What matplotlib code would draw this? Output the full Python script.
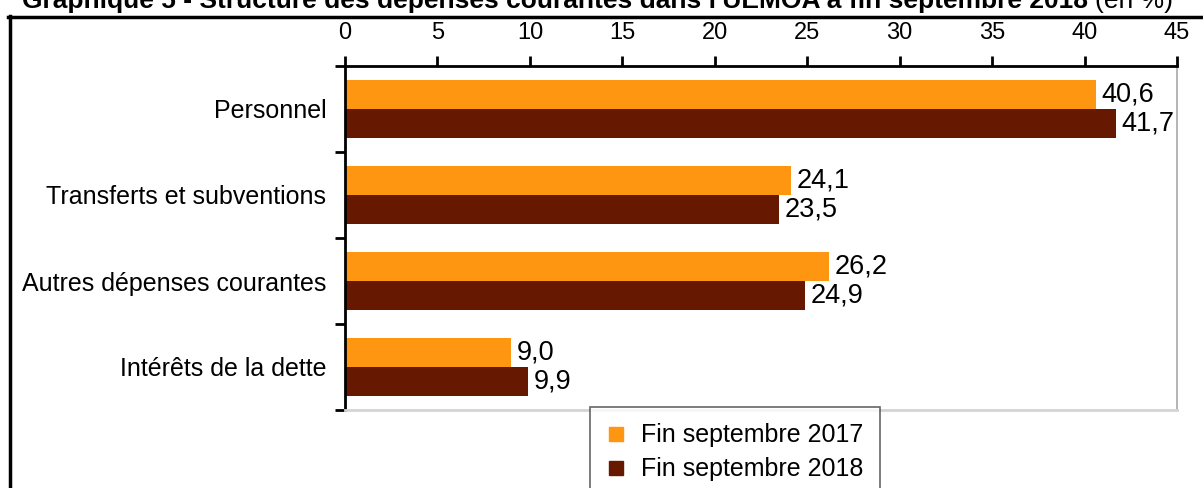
import matplotlib
matplotlib.use("Agg")
import matplotlib.pyplot as plt
from matplotlib.lines import Line2D

plt.rcParams['font.family'] = ['Liberation Sans', 'DejaVu Sans']

categories = ["Personnel", "Transferts et subventions", "Autres dépenses courantes", "Intérêts de la dette"]
series_names = ["Fin septembre 2017", "Fin septembre 2018"]
values_2017 = [40.6, 24.1, 26.2, 9.0]
values_2018 = [41.7, 23.5, 24.9, 9.9]
xticks = [0, 5, 10, 15, 20, 25, 30, 35, 40, 45]
title_bold = "Graphique 5 - Structure des dépenses courantes dans l'UEMOA à fin septembre 2018 "
title_norm = "(en %)"

colors = ["#FF9612", "#661800"]

W, H = 1203, 488
fig = plt.figure(figsize=(W / 100, H / 100), dpi=100)

def fx(px):
    return px / W

def fy(py):
    return 1 - py / H

ax = fig.add_axes([fx(345), fy(410), fx(1177) - fx(345), fy(66) - fy(410)])

pos = list(range(len(categories)))
h = 0.336
ax.barh([p - h / 2 for p in pos], values_2017, height=h, color=colors[0], label=series_names[0])
ax.barh([p + h / 2 for p in pos], values_2018, height=h, color=colors[1], label=series_names[1])

for p, v in zip(pos, values_2017):
    ax.annotate(f"{v:.1f}".replace(".", ","), (v, p - h / 2), xytext=(4, 0),
                textcoords="offset points", va="center", ha="left", fontsize=19.5)
for p, v in zip(pos, values_2018):
    ax.annotate(f"{v:.1f}".replace(".", ","), (v, p + h / 2), xytext=(4, 0),
                textcoords="offset points", va="center", ha="left", fontsize=19.5)

ax.set_xlim(0, 45)
ax.set_ylim(3.5, -0.5)
ax.xaxis.set_ticks_position("top")
ax.xaxis.set_label_position("top")
ax.set_xticks(xticks)
ax.set_xticklabels([str(t) for t in xticks])
ax.tick_params(axis="x", which="major", direction="out", length=7, width=2, labelsize=17, pad=9)

ax.set_yticks([-0.5, 0.5, 1.5, 2.5, 3.5])
ax.set_yticklabels([])
ax.set_yticks(pos, minor=True)
ax.set_yticklabels(categories, minor=True)
ax.tick_params(axis="y", which="major", direction="out", length=7, width=2)
ax.tick_params(axis="y", which="minor", length=0, labelsize=18, pad=13.5)

ax.spines["top"].set_linewidth(2)
ax.spines["left"].set_linewidth(2)
ax.spines["right"].set_color("#a8a8a8")
ax.spines["right"].set_linewidth(1.2)
ax.spines["bottom"].set_color("#d4d4d4")
ax.spines["bottom"].set_linewidth(2)

handles = [Line2D([0], [0], marker="s", color="none", markerfacecolor=c, markeredgecolor=c,
                  markersize=10) for c in colors]
leg = fig.legend(handles, series_names, loc="upper left",
                 bbox_to_anchor=(fx(590), fy(407)), fontsize=18,
                 frameon=True, fancybox=False, handlelength=0.8, handletextpad=0.6,
                 borderpad=0.65, labelspacing=0.4, borderaxespad=0)
leg.get_frame().set_edgecolor("#404040")
leg.get_frame().set_linewidth(1.2)

# outer frame
fig.add_artist(Line2D([fx(9.5), fx(9.5)], [fy(16), fy(500)], color="black", lw=2.5))
fig.add_artist(Line2D([fx(8), fx(1210)], [fy(16.5), fy(16.5)], color="black", lw=2.5))

# title, clipped at top as in the original
t1 = fig.text(fx(22), fy(8), title_bold, fontsize=19, fontweight="bold", ha="left", va="baseline")
fig.canvas.draw()
bb = t1.get_window_extent()
fig.text(bb.x1 / W, fy(8), title_norm, fontsize=19, ha="left", va="baseline")

fig.savefig("out.png", dpi=100)
